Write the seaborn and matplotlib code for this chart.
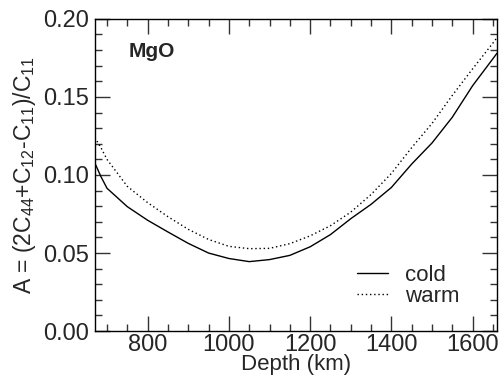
import matplotlib
matplotlib.use("Agg")
import matplotlib.pyplot as plt
import seaborn as sns
import pandas as pd

depth = [670, 685, 700, 750, 800, 850, 900, 950, 1000, 1050, 1100, 1150, 1200,
         1250, 1300, 1350, 1400, 1450, 1500, 1550, 1600, 1650, 1660]
cold = [0.1077, 0.099, 0.0915, 0.0797, 0.071, 0.0635, 0.0562, 0.050, 0.0465,
        0.0445, 0.0458, 0.0485, 0.054, 0.0618, 0.072, 0.0812, 0.092, 0.107,
        0.1205, 0.137, 0.1572, 0.1745, 0.178]
warm = [0.124, 0.1175, 0.110, 0.0927, 0.0823, 0.0733, 0.0652, 0.0587, 0.0543,
        0.0528, 0.053, 0.056, 0.061, 0.0675, 0.0762, 0.0875, 0.101, 0.1175,
        0.133, 0.151, 0.168, 0.1845, 0.188]

sns.set_style("ticks")
plt.rcParams['font.family'] = ['Liberation Sans', 'DejaVu Sans']
plt.rcParams['mathtext.fontset'] = 'custom'
plt.rcParams['mathtext.rm'] = 'Liberation Sans'
plt.rcParams['mathtext.it'] = 'Liberation Sans'

fig = plt.figure(figsize=(4.99, 3.85), dpi=100)
ax = fig.add_axes([0.19, 0.14, 0.806, 0.811])

df = pd.DataFrame({"depth": depth, "cold": cold, "warm": warm})
sns.lineplot(data=df, x="depth", y="cold", ax=ax, color="black", lw=1.0,
             label="cold")
sns.lineplot(data=df, x="depth", y="warm", ax=ax, color="black", lw=1.0,
             linestyle=(0, (1, 2)), label="warm")

ax.set_xlim(670, 1660)
ax.set_ylim(0, 0.2)
ax.set_xticks([800, 1000, 1200, 1400, 1600])
ax.set_xticks(list(range(700, 1660, 50)), minor=True)
ax.set_yticks([0.0, 0.05, 0.10, 0.15, 0.20])
ax.set_yticks([i / 100 for i in range(0, 21)], minor=True)
ax.set_yticklabels(["0.00", "0.05", "0.10", "0.15", "0.20"])
ax.tick_params(which="both", direction="in", top=True, right=True,
               labelsize=17, color="#333333", width=1.0)
ax.tick_params(which="major", length=11)
ax.tick_params(which="minor", length=5)
ax.tick_params(axis="x", which="both", pad=2)
ax.tick_params(axis="y", which="both", pad=4)
for s in ax.spines.values():
    s.set_linewidth(1.0)
    s.set_color("black")

ax.set_xlabel("Depth (km)", fontsize=16, labelpad=-1)
ax.set_ylabel(r"A = (2C$_{44}$+C$_{12}$-C$_{11}$)/C$_{11}$", fontsize=16.5,
              labelpad=4)
ax.text(0.083, 0.895, "MgO", transform=ax.transAxes, fontsize=15,
        fontweight="bold", va="center")

ax.legend(loc="upper left", bbox_to_anchor=(0.652, 0.212), frameon=False,
          fontsize=16, handlelength=1.4, handletextpad=0.75,
          labelspacing=0.0, borderpad=0, borderaxespad=0)

fig.savefig("out.png", dpi=100)
